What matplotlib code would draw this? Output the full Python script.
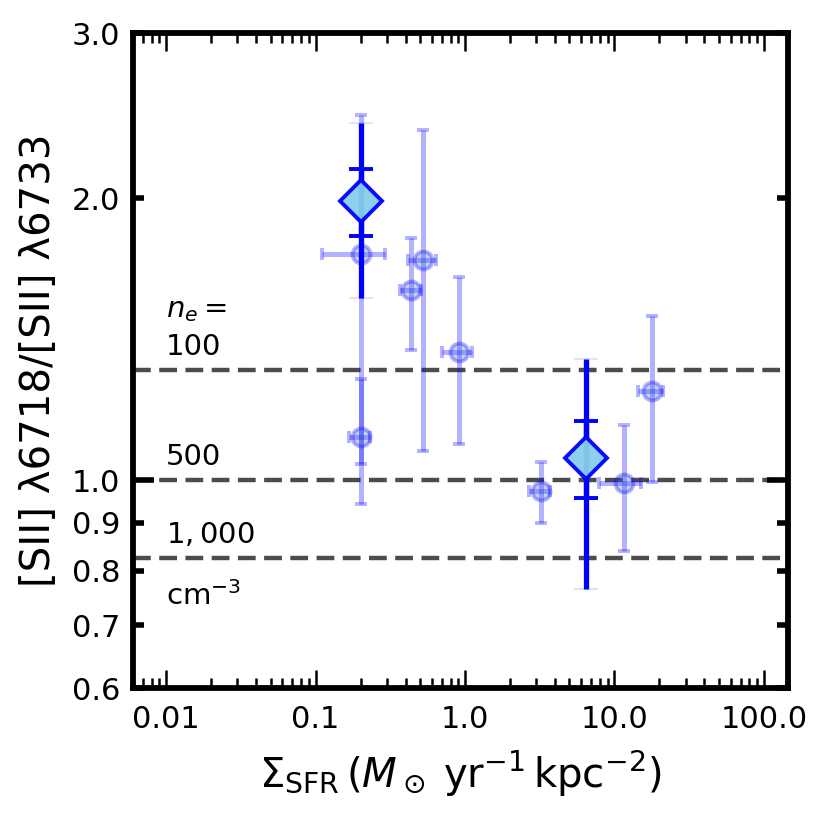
import numpy as np
import matplotlib
matplotlib.use("Agg")
import matplotlib.pyplot as plt
from matplotlib.ticker import LogLocator, FixedLocator, FuncFormatter

# ---- data ----
# individual regions (faint circles)
sfr_pts = [0.2, 0.435, 0.525, 0.91, 0.2, 3.2, 11.5, 17.7]
sfr_err = [0.09, 0.07, 0.11, 0.21, 0.033, 0.5, 3.65, 3.3]
ratio_pts = [1.745, 1.595, 1.718, 1.37, 1.112, 0.973, 0.992, 1.245]
ratio_err = [0.705, 0.217, 0.643, 0.277, 0.17, 0.073, 0.152, 0.25]

# stacked / mean values (diamonds)
sfr_mean = [0.2, 6.5]
ratio_mean = [1.985, 1.056]
ratio_mean_err_outer = [0.42, 0.29]
ratio_mean_err_inner = [0.165, 0.10]

# density reference lines
ne_ratio = [1.31, 1.0, 0.825]
ne_text = [r"$n_e=$", "100", "500", r"$1,000$", r"cm$^{-3}$"]
ne_text_y = [1.52, 1.386, 1.058, 0.874, 0.752]

xticks_major = [0.01, 0.1, 1.0, 10.0, 100.0]
yticks_major = [1.0]
yticks_minor = [0.6, 0.7, 0.8, 0.9, 2.0, 3.0]

# ---- figure ----
fig = plt.figure(figsize=(8.31, 8.21), dpi=100)
ax = fig.add_axes([133/831, 1-688/821, 655/831, 655/821])
ax.set_xscale("log")
ax.set_yscale("log")

for r in ne_ratio:
    ax.axhline(r, color="k", alpha=0.7, lw=3.2, dashes=(4, 1.9), zorder=1)

for t, ty in zip(ne_text, ne_text_y):
    ax.text(0.01, ty, t, fontsize=21, ha="left", va="center")

ax.errorbar(sfr_pts, ratio_pts, xerr=sfr_err, yerr=ratio_err, fmt="o",
            color="blue", mfc="royalblue", mec="blue", ms=13, mew=2.8,
            elinewidth=3.6, capsize=4.5, capthick=2.5, alpha=0.3, zorder=2)

# outer (total) error with faint caps
eb = ax.errorbar(sfr_mean, ratio_mean, yerr=ratio_mean_err_outer, fmt="none",
                 ecolor="blue", elinewidth=3.8, capsize=8.5, capthick=1.5, zorder=3)
for c in eb[1]:
    c.set_alpha(0.12)
# inner error with solid caps
ax.errorbar(sfr_mean, ratio_mean, yerr=ratio_mean_err_inner, fmt="none",
            ecolor="blue", elinewidth=3.8, capsize=8.5, capthick=2.8, zorder=3)
ax.plot(sfr_mean, ratio_mean, ls="none", marker="D", ms=21, mfc="skyblue",
        mec="blue", mew=2.8, alpha=0.95, zorder=4)

ax.set_xlim(0.006, 145)
ax.set_ylim(0.6, 3.0)

ax.xaxis.set_major_locator(FixedLocator(xticks_major))
ax.xaxis.set_minor_locator(LogLocator(base=10, subs=np.arange(2, 10), numticks=30))
ax.xaxis.set_major_formatter(FuncFormatter(lambda v, p: f"{v:.2f}" if v < 0.05 else f"{v:.1f}"))
ax.xaxis.set_minor_formatter(FuncFormatter(lambda v, p: ""))

ax.yaxis.set_major_locator(FixedLocator(yticks_major))
ax.yaxis.set_minor_locator(FixedLocator(yticks_minor))
ax.yaxis.set_major_formatter(FuncFormatter(lambda v, p: f"{v:.1f}"))
ax.yaxis.set_minor_formatter(FuncFormatter(lambda v, p: f"{v:.1f}"))

ax.tick_params(axis="x", which="both", direction="in", top=True, bottom=True,
               width=1.8, labelsize=22, pad=12)
ax.tick_params(axis="x", which="major", length=13)
ax.tick_params(axis="x", which="minor", length=7)
ax.tick_params(axis="y", which="both", direction="in", left=True, right=True,
               width=4, labelsize=22, pad=9)
ax.tick_params(axis="y", which="major", length=15)
ax.tick_params(axis="y", which="minor", length=8)

for s in ax.spines.values():
    s.set_linewidth(4.2)

ax.set_xlabel(r"$\Sigma_{\rm SFR}\,(M_\odot\;{\rm yr^{-1}\,kpc^{-2}})$", fontsize=29, labelpad=11)
ax.set_ylabel("[SII] λ6718/[SII] λ6733", fontsize=29, labelpad=9)

fig.savefig("out.png", dpi=100)
